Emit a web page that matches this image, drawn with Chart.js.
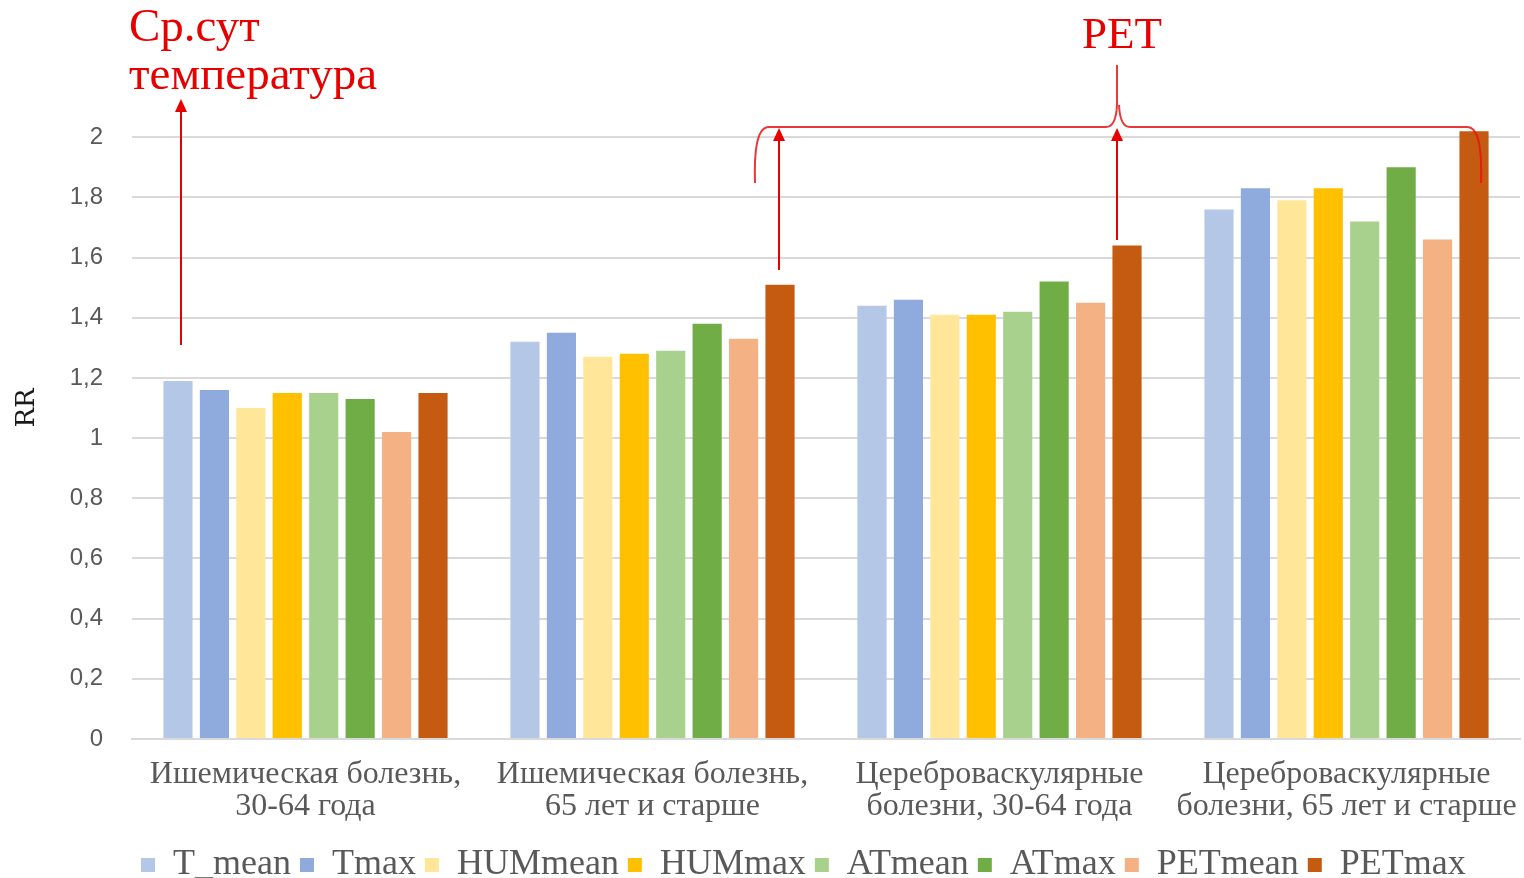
<!DOCTYPE html>
<html>
<head>
<meta charset="utf-8">
<script src="https://cdn.jsdelivr.net/npm/chart.js@4/dist/chart.umd.min.js"></script>
<style>
  html, body { margin: 0; padding: 0; background: #ffffff; }
  #wrap { width: 1524px; height: 878px; position: relative; }
</style>
</head>
<body>
<div id="wrap"><canvas id="c" width="1524" height="878"></canvas></div>
<script>
// Disease groups (two-line axis labels)
const categories = [
  ['Ишемическая болезнь,', '30-64 года'],
  ['Ишемическая болезнь,', '65 лет и старше'],
  ['Цереброваскулярные', 'болезни, 30-64 года'],
  ['Цереброваскулярные', 'болезни, 65 лет и старше']
];

// Relative risk per indicator
const T_mean   = [1.19, 1.32, 1.44, 1.76];
const Tmax     = [1.16, 1.35, 1.46, 1.83];
const HUMmean  = [1.10, 1.27, 1.41, 1.79];
const HUMmax   = [1.15, 1.28, 1.41, 1.83];
const ATmean   = [1.15, 1.29, 1.42, 1.72];
const ATmax    = [1.13, 1.38, 1.52, 1.90];
const PETmean  = [1.02, 1.33, 1.45, 1.66];
const PETmax   = [1.15, 1.51, 1.64, 2.02];

const seriesNames = ['T_mean', 'Tmax', 'HUMmean', 'HUMmax', 'ATmean', 'ATmax', 'PETmean', 'PETmax'];
const seriesValues = [T_mean, Tmax, HUMmean, HUMmax, ATmean, ATmax, PETmean, PETmax];
const seriesColors = ['#B4C7E7', '#8FAADC', '#FFE699', '#FFC000', '#A9D18E', '#70AD47', '#F4B183', '#C55A11'];

const yTicks = [0, 0.2, 0.4, 0.6, 0.8, 1, 1.2, 1.4, 1.6, 1.8, 2];

const RED = '#e60000';

// Red call-outs: label, arrows from bars and the PET brace
const calloutPlugin = {
  id: 'callouts',
  afterDatasetsDraw(chart) {
    const ctx = chart.ctx;
    const tMeanBar = chart.getDatasetMeta(0).data[0];
    const petBars = chart.getDatasetMeta(7).data;

    function arrow(x, y0, y1) {
      ctx.save();
      ctx.strokeStyle = RED;
      ctx.fillStyle = RED;
      ctx.lineWidth = 2;
      ctx.beginPath();
      ctx.moveTo(x, y0);
      ctx.lineTo(x, y1 + 10);
      ctx.stroke();
      ctx.beginPath();
      ctx.moveTo(x, y1);
      ctx.lineTo(x - 6, y1 + 13);
      ctx.lineTo(x + 6, y1 + 13);
      ctx.closePath();
      ctx.fill();
      ctx.restore();
    }

    ctx.save();
    ctx.fillStyle = RED;
    ctx.textBaseline = 'alphabetic';
    ctx.textAlign = 'left';
    ctx.font = '47px "Liberation Serif"';
    ctx.fillText('Ср.сут', 129, 41);
    ctx.fillText('температура', 129, 89);
    ctx.font = '45px "Liberation Serif"';
    ctx.fillText('PET', 1082, 48);
    ctx.restore();

    arrow(tMeanBar.x + 3, 345, 99);
    arrow(petBars[1].x - 1, 270, 128);
    arrow(petBars[2].x - 10, 240, 128);

    // brace over the PET bars
    const xl = 755, xr = 1481, xm = 1118, yl = 127, ye = 183;
    ctx.save();
    ctx.strokeStyle = 'rgba(232, 20, 20, 0.85)';
    ctx.lineWidth = 2;
    ctx.lineJoin = 'round';
    ctx.beginPath();
    ctx.moveTo(xl, ye);
    ctx.bezierCurveTo(xl - 1, 150, xl + 2, yl, xl + 14, yl);
    ctx.lineTo(xm - 12, yl);
    ctx.quadraticCurveTo(xm - 2, yl, xm - 1, 105);
    ctx.lineTo(xm - 1, 65);
    ctx.moveTo(xm + 1, 105);
    ctx.quadraticCurveTo(xm + 2, yl, xm + 12, yl);
    ctx.lineTo(xr - 14, yl);
    ctx.bezierCurveTo(xr - 2, yl, xr + 1, 150, xr, ye);
    ctx.stroke();
    ctx.restore();
  }
};

new Chart(document.getElementById('c'), {
  type: 'bar',
  data: {
    labels: categories,
    datasets: seriesNames.map((name, i) => ({
      label: name,
      data: seriesValues[i],
      backgroundColor: seriesColors[i],
      borderWidth: 0,
      categoryPercentage: 0.84,
      barPercentage: 0.8
    }))
  },
  options: {
    responsive: false,
    animation: false,
    devicePixelRatio: 1,
    layout: { padding: { top: 77, right: 4, left: 0, bottom: -15 } },
    plugins: {
      legend: {
        position: 'bottom',
        align: 'start',
        fullSize: false,
        labels: {
          boxWidth: 14,
          boxHeight: 14,
          padding: 9,
          color: '#595959',
          font: { family: '"Liberation Serif"', size: 36 }
        }
      },
      tooltip: { enabled: false }
    },
    scales: {
      x: {
        grid: { display: false, drawTicks: false },
        border: { display: true, color: '#d9d9d9', width: 2 },
        ticks: {
          color: '#595959',
          padding: 20,
          maxRotation: 0,
          autoSkip: false,
          font: { family: '"Liberation Serif"', size: 32, lineHeight: 1.0 }
        },
        afterFit(axis) {
          axis.paddingLeft = 0;
          axis.paddingRight = 0;
          axis.height = 99;
        }
      },
      y: {
        min: 0,
        max: 2.2,
        afterBuildTicks(axis) {
          axis.ticks = yTicks.map(v => ({ value: v }));
        },
        afterFit(axis) {
          axis.width = 132;
        },
        grid: { color: '#d9d9d9', lineWidth: 2, drawTicks: false },
        border: { display: false },
        title: {
          display: true,
          text: 'RR',
          color: '#1a1a1a',
          padding: { top: 12, bottom: 0 },
          font: { family: '"DejaVu Serif"', size: 26 }
        },
        ticks: {
          color: '#595959',
          padding: 29,
          font: { family: '"Liberation Sans"', size: 24 },
          callback: v => String(Math.round(v * 10) / 10).replace('.', ',')
        }
      }
    }
  },
  plugins: [calloutPlugin]
});
</script>
</body>
</html>
